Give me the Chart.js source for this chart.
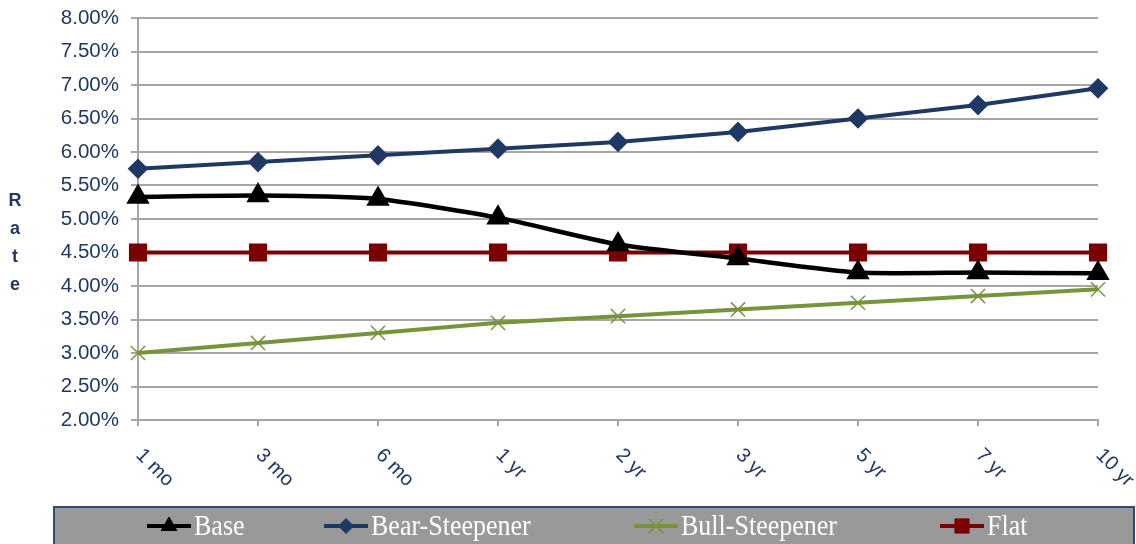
<!DOCTYPE html>
<html>
<head>
<meta charset="utf-8">
<script src="https://cdn.jsdelivr.net/npm/chart.js@4/dist/chart.umd.min.js"></script>
<style>
  html, body { margin: 0; padding: 0; background: #ffffff; }
  #wrap { width: 1136px; height: 544px; position: relative; }
</style>
</head>
<body>
<div id="wrap"><canvas id="c" width="1136" height="544"></canvas></div>
<script>
// Yield curve scenarios by maturity
const maturities = ['1 mo', '3 mo', '6 mo', '1 yr', '2 yr', '3 yr', '5 yr', '7 yr', '10 yr'];
const baseRates = [5.33, 5.35, 5.30, 5.02, 4.62, 4.41, 4.20, 4.20, 4.19];
const bearSteepenerRates = [5.75, 5.85, 5.95, 6.05, 6.15, 6.30, 6.50, 6.70, 6.95];
const bullSteepenerRates = [3.00, 3.15, 3.30, 3.45, 3.55, 3.65, 3.75, 3.85, 3.95];
const flatRates = [4.50, 4.50, 4.50, 4.50, 4.50, 4.50, 4.50, 4.50, 4.50];
const yTickValues = [2.0, 2.5, 3.0, 3.5, 4.0, 4.5, 5.0, 5.5, 6.0, 6.5, 7.0, 7.5, 8.0];
const yAxisTitle = 'Rate';

const NAVY = '#1F3864';
const GRID = '#A6A6A6';

// Category labels, rotated 45° clockwise below the x axis
const xLabelPlugin = {
  id: 'xLabels',
  afterDraw(chart) {
    const ctx = chart.ctx;
    const xs = chart.scales.x;
    const y0 = chart.chartArea.bottom + 25;
    ctx.save();
    ctx.fillStyle = NAVY;
    ctx.font = '20px "Liberation Sans", Arial, sans-serif';
    ctx.textAlign = 'left';
    ctx.textBaseline = 'top';
    maturities.forEach((lab, i) => {
      const x = xs.getPixelForValue(i) + 8;
      ctx.save();
      ctx.translate(x, y0);
      ctx.rotate(Math.PI / 4);
      ctx.fillText(lab, 0, 0);
      ctx.restore();
    });
    ctx.restore();
  }
};

// Axis title written as stacked letters
const yTitlePlugin = {
  id: 'yTitle',
  afterDraw(chart) {
    const ctx = chart.ctx;
    ctx.save();
    ctx.fillStyle = NAVY;
    ctx.font = 'bold 18px "Liberation Sans", Arial, sans-serif';
    ctx.textAlign = 'center';
    ctx.textBaseline = 'middle';
    yAxisTitle.split('').forEach((ch, i) => {
      ctx.fillText(ch, 15, 201 + i * 28);
    });
    ctx.restore();
  }
};

// Legend strip along the bottom: line sample + marker + label per series
const legendPlugin = {
  id: 'stripLegend',
  afterDraw(chart) {
    const c = chart.ctx;
    c.save();
    c.fillStyle = '#999999';
    c.fillRect(54, 507, 1080, 40);
    c.strokeStyle = '#2E4A6E';
    c.lineWidth = 2;
    c.strokeRect(54, 507, 1080, 40);
    const starts = [147, 324, 634, 940];
    const cy = 526;
    c.textBaseline = 'middle';
    c.textAlign = 'left';
    chart.data.datasets.forEach((ds, i) => {
      const x0 = starts[i];
      const x1 = x0 + 44;
      c.strokeStyle = ds.borderColor;
      c.lineWidth = 4;
      c.beginPath();
      c.moveTo(x0, cy);
      c.lineTo(x1, cy);
      c.stroke();
      c.fillStyle = ds.pointBackgroundColor;
      c.strokeStyle = ds.pointBorderColor;
      c.lineWidth = ds.pointBorderWidth || 1;
      Chart.helpers.drawPoint(c, {
        pointStyle: ds.pointStyle,
        radius: ds.pointRadius,
        rotation: 0,
        borderWidth: ds.pointBorderWidth || 1
      }, (x0 + x1) / 2, cy);
      // slightly tall, narrow lettering
      c.save();
      c.translate(x1 + 3, cy + 1);
      c.scale(1, 1.12);
      c.fillStyle = '#ffffff';
      c.font = '26px "Liberation Serif", "Times New Roman", serif';
      c.fillText(ds.label, 0, 0);
      c.restore();
    });
    c.restore();
  }
};

const ctx = document.getElementById('c').getContext('2d');
new Chart(ctx, {
  type: 'line',
  data: {
    labels: maturities,
    datasets: [
      {
        label: 'Base', data: baseRates,
        borderColor: '#000000', backgroundColor: '#000000',
        borderWidth: 4.5, pointStyle: 'triangle', pointRadius: 9,
        pointBackgroundColor: '#000000', pointBorderColor: '#000000',
        tension: 0.2
      },
      {
        label: 'Bear-Steepener', data: bearSteepenerRates,
        borderColor: NAVY, backgroundColor: NAVY,
        borderWidth: 4, pointStyle: 'rectRot', pointRadius: 7.5,
        pointBackgroundColor: NAVY, pointBorderColor: NAVY
      },
      {
        label: 'Bull-Steepener', data: bullSteepenerRates,
        borderColor: '#77933C', backgroundColor: '#77933C',
        borderWidth: 4, pointStyle: 'crossRot', pointRadius: 10,
        pointBorderWidth: 1.5,
        pointBackgroundColor: '#77933C', pointBorderColor: '#77933C'
      },
      {
        label: 'Flat', data: flatRates,
        borderColor: '#7B0000', backgroundColor: '#7B0000',
        borderWidth: 4, pointStyle: 'rect', pointRadius: 10,
        pointBackgroundColor: '#7B0000', pointBorderColor: '#7B0000'
      }
    ]
  },
  options: {
    responsive: false,
    animation: false,
    devicePixelRatio: 1,
    layout: { padding: { left: 0, right: 38, top: 0, bottom: 0 } },
    plugins: {
      legend: { display: false },
      tooltip: { enabled: false }
    },
    scales: {
      x: {
        type: 'category',
        offset: false,
        grid: { drawOnChartArea: false, drawTicks: true, tickLength: 6, color: GRID, lineWidth: 2 },
        border: { display: true, color: GRID, width: 2 },
        ticks: { display: false },
        afterFit(scale) { scale.height = 124; }
      },
      y: {
        min: 2, max: 8,
        afterBuildTicks(scale) {
          scale.ticks = yTickValues.map(v => ({ value: v }));
        },
        grid: { color: GRID, lineWidth: 2, tickLength: 7, drawTicks: true },
        border: { display: true, color: GRID, width: 2 },
        ticks: {
          color: NAVY,
          padding: 12,
          font: { family: '"Liberation Sans", Arial, sans-serif', size: 20.5 },
          callback: (v) => Number(v).toFixed(2) + '%'
        },
        afterFit(scale) {
          scale.width = 138;
          scale.paddingTop = 18;
          scale.paddingBottom = 0;
        }
      }
    }
  },
  plugins: [xLabelPlugin, yTitlePlugin, legendPlugin]
});
</script>
</body>
</html>
